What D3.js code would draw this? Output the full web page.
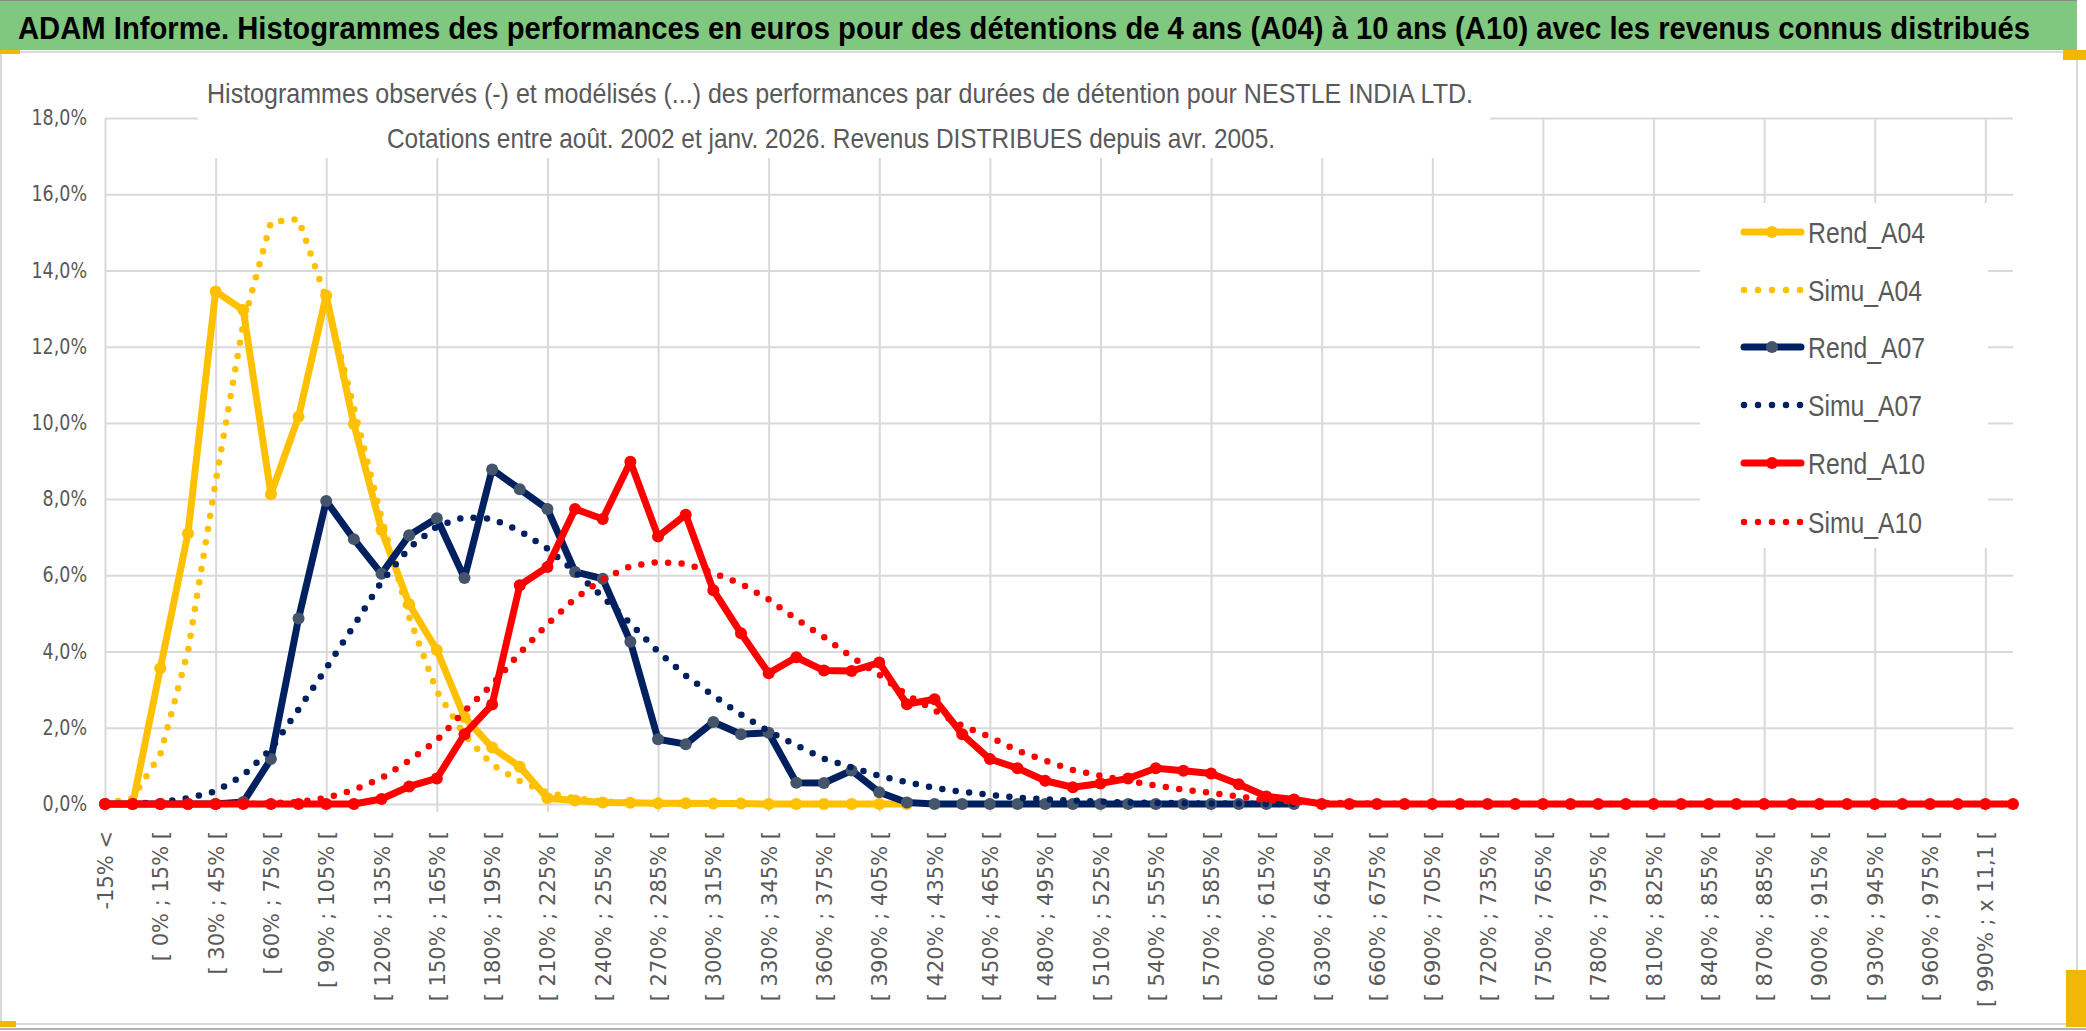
<!DOCTYPE html>
<html><head><meta charset="utf-8">
<script src="https://cdn.jsdelivr.net/npm/d3@7"></script>
<style>body{margin:0;background:#fff}svg{display:block}</style>
</head><body><svg id="c" width="2086" height="1031"></svg>
<script>
const titleText = "ADAM Informe. Histogrammes des performances en euros pour des détentions de 4 ans (A04) à 10 ans (A10) avec les revenus connus distribués";
const subtitle1 = "Histogrammes observés (-) et modélisés (...) des performances par durées de détention pour NESTLE INDIA LTD.";
const subtitle2 = "Cotations entre août. 2002 et janv. 2026. Revenus DISTRIBUES depuis avr. 2005.";

const categories = ["-15% <","[ -15% ; 0% [","[ 0% ; 15% [","[ 15% ; 30% [","[ 30% ; 45% [","[ 45% ; 60% [","[ 60% ; 75% [","[ 75% ; 90% [","[ 90% ; 105% [","[ 105% ; 120% [",
"[ 120% ; 135% [","[ 135% ; 150% [","[ 150% ; 165% [","[ 165% ; 180% [","[ 180% ; 195% [","[ 195% ; 210% [","[ 210% ; 225% [","[ 225% ; 240% [","[ 240% ; 255% [","[ 255% ; 270% [",
"[ 270% ; 285% [","[ 285% ; 300% [","[ 300% ; 315% [","[ 315% ; 330% [","[ 330% ; 345% [","[ 345% ; 360% [","[ 360% ; 375% [","[ 375% ; 390% [","[ 390% ; 405% [","[ 405% ; 420% [",
"[ 420% ; 435% [","[ 435% ; 450% [","[ 450% ; 465% [","[ 465% ; 480% [","[ 480% ; 495% [","[ 495% ; 510% [","[ 510% ; 525% [","[ 525% ; 540% [","[ 540% ; 555% [","[ 555% ; 570% [",
"[ 570% ; 585% [","[ 585% ; 600% [","[ 600% ; 615% [","[ 615% ; 630% [","[ 630% ; 645% [","[ 645% ; 660% [","[ 660% ; 675% [","[ 675% ; 690% [","[ 690% ; 705% [","[ 705% ; 720% [",
"[ 720% ; 735% [","[ 735% ; 750% [","[ 750% ; 765% [","[ 765% ; 780% [","[ 780% ; 795% [","[ 795% ; 810% [","[ 810% ; 825% [","[ 825% ; 840% [","[ 840% ; 855% [","[ 855% ; 870% [",
"[ 870% ; 885% [","[ 885% ; 900% [","[ 900% ; 915% [","[ 915% ; 930% [","[ 930% ; 945% [","[ 945% ; 960% [","[ 960% ; 975% [","[ 975% ; 990% [","[ 990% ; x 11,1 [","x 11,1 <"];

const yTicks = [0,2,4,6,8,10,12,14,16,18];

// values in %
const rendA04 = [0,0,3.56,7.10,13.45,12.96,8.13,10.16,13.34,9.97,7.19,5.24,4.04,2.28,1.48,0.98,0.15,0.09,0.04,0.03,0.02,0.02,0.01,0.01,0,0,0,0,0,0];
const simuA04 = [0,0.16,1.30,4.00,8.45,12.60,15.27,15.35,13.26,10.40,7.50,4.90,2.96,1.81,1.03,0.60,0.30,0.15,0.07,0.03,0.01,0,0,0,0,0,0,0,0,0];
const rendA07 = [0,0,0,0,0,0.05,1.18,4.87,7.95,6.95,6.04,7.05,7.50,5.93,8.78,8.26,7.74,6.09,5.91,4.26,1.70,1.57,2.15,1.83,1.87,0.56,0.55,0.88,0.31,0.04,0,0,0,0,0,0,0,0,0,0,0,0,0,0];
const simuA07 = [0,0.01,0.05,0.15,0.33,0.75,1.44,2.48,3.56,4.68,5.83,6.72,7.28,7.53,7.48,7.17,6.70,6.09,5.43,4.74,4.00,3.37,2.84,2.35,1.91,1.54,1.19,0.96,0.74,0.57,0.42,0.32,0.24,0.17,0.12,0.09,0.06,0.04,0.03,0.02,0.01,0.01,0,0];
const rendA10 = [0,0,0,0,0,0,0,0,0,0,0.13,0.46,0.67,1.83,2.61,5.74,6.22,7.74,7.48,8.98,7.02,7.59,5.61,4.48,3.43,3.85,3.50,3.49,3.71,2.62,2.75,1.83,1.18,0.94,0.61,0.44,0.54,0.67,0.94,0.87,0.80,0.52,0.20,0.12,0,0,0,0,0,0,0,0,0,0,0,0,0,0,0,0,0,0,0,0,0,0,0,0,0,0];
const simuA10 = [0,0,0,0,0,0,0.02,0.05,0.16,0.37,0.68,1.14,1.67,2.44,3.13,3.96,4.72,5.39,5.90,6.24,6.35,6.30,6.06,5.78,5.37,4.85,4.38,3.86,3.39,2.86,2.46,2.05,1.76,1.40,1.14,0.89,0.74,0.61,0.48,0.38,0.29,0.20,0.10,0.06,0.03,0.02,0.01,0,0,0,0,0,0,0,0,0,0,0,0,0,0,0,0,0,0,0,0,0,0,0];

const seriesNames = ["Rend_A04","Simu_A04","Rend_A07","Simu_A07","Rend_A10","Simu_A10"];
const seriesValues = [rendA04, simuA04, rendA07, simuA07, rendA10, simuA10];
const seriesColors = ["#FFC000","#FFC000","#002060","#002060","#FF0000","#FF0000"];
const markerColors = ["#FFC000",null,"#44546A",null,"#FF0000",null];

const svg = d3.select("#c");
const xL = 105, xR = 2013, yB = 804, yT = 118;
const x = d3.scalePoint().domain(categories).range([xL, xR]);
const y = d3.scaleLinear().domain([0, 18]).range([yB, yT]);
const tickFont = "'DejaVu Sans', Verdana, sans-serif";
const textFont = "'Liberation Sans', Arial, sans-serif";

// frame
svg.append("rect").attr("x",0).attr("y",0).attr("width",2086).attr("height",1031).attr("fill","#fff");
svg.append("rect").attr("x",1).attr("y",52).attr("width",2076).attr("height",972).attr("fill","none").attr("stroke","#D9D9D9").attr("stroke-width",2);
svg.append("line").attr("x1",0).attr("x2",2086).attr("y1",1029).attr("y2",1029).attr("stroke","#9a9a9a").attr("stroke-width",1.5);
svg.append("rect").attr("x",0).attr("y",0).attr("width",2077).attr("height",50).attr("fill","#80C880");
svg.append("line").attr("x1",0).attr("x2",2077).attr("y1",0.5).attr("y2",0.5).attr("stroke","#8a8a8a");
svg.append("text").attr("transform","translate(18,39) scale(1,1.16)").attr("x",0).attr("y",0)
  .attr("font-family",textFont).attr("font-weight","bold")
  .attr("font-size",27.5).attr("fill","#000").attr("textLength",2012).attr("lengthAdjust","spacingAndGlyphs").text(titleText);

// horizontal gridlines + y labels
const gy = svg.append("g").attr("transform",`translate(${xL},0)`)
  .call(d3.axisLeft(y).tickValues(yTicks).tickSize(-(xR-xL)).tickPadding(18)
    .tickFormat(d => d.toFixed(1).replace(".", ",") + "%"));
gy.select(".domain").remove();
gy.selectAll(".tick line").attr("stroke","#D9D9D9").attr("stroke-width",2);
gy.selectAll(".tick text").attr("fill","#595959").attr("font-family",tickFont).attr("font-size",17.5)
  .attr("transform","scale(1,1.18)");

// vertical gridlines every 4 categories
const gx = svg.append("g").attr("transform",`translate(0,${yB+8})`)
  .call(d3.axisBottom(x).tickValues(categories.filter((d,i)=>i%4===0)).tickSize(-(yB+8-yT)).tickFormat(""));
gx.select(".domain").remove();
gx.selectAll(".tick line").attr("stroke","#D9D9D9").attr("stroke-width",2);

// category labels every 2
const gl = svg.append("g").attr("transform",`translate(0,${yB})`)
  .call(d3.axisBottom(x).tickValues(categories.filter((d,i)=>i%2===0)).tickSize(0));
gl.select(".domain").remove();
gl.selectAll(".tick text").attr("transform","rotate(-90)").attr("x",-27).attr("y",0).attr("dy","0.36em")
  .attr("text-anchor","end").attr("fill","#595959").attr("font-family",tickFont).attr("font-size",21);

// subtitle box
svg.append("rect").attr("x",198).attr("y",64).attr("width",1292).attr("height",94).attr("fill","#fff");
svg.append("text").attr("x",207).attr("y",103).attr("font-family",textFont).attr("font-size",27.5).attr("fill","#595959")
  .attr("textLength",1266).attr("lengthAdjust","spacingAndGlyphs").text(subtitle1);
svg.append("text").attr("x",387).attr("y",148).attr("font-family",textFont).attr("font-size",27.5).attr("fill","#595959")
  .attr("textLength",888).attr("lengthAdjust","spacingAndGlyphs").text(subtitle2);

// legend
const legendY = [232,290,347,405,463,522];
svg.append("rect").attr("x",1700).attr("y",203).attr("width",288).attr("height",345).attr("fill","#fff");
const lg = svg.append("g");
seriesNames.forEach((name,k)=>{
  const g = lg.append("g").attr("transform",`translate(0,${legendY[k]})`);
  const isSimu = markerColors[k]===null;
  const ln = g.append("line").attr("x1",1744).attr("x2",1801).attr("y1",0).attr("y2",0)
    .attr("stroke",seriesColors[k]).attr("stroke-width",isSimu?6.5:7).attr("stroke-linecap","round");
  if (isSimu) ln.attr("stroke-dasharray","0 14");
  else g.append("circle").attr("cx",1772).attr("cy",0).attr("r",6).attr("fill",markerColors[k]);
  g.append("text").attr("x",1808).attr("y",11).attr("font-family",textFont).attr("font-size",30).attr("fill","#595959")
    .attr("textLength", isSimu?114:117).attr("lengthAdjust","spacingAndGlyphs").text(name);
});

// series
const plot = svg.append("g");
seriesValues.forEach((vals,k)=>{
  const pts = vals.map((v,i)=>({c:categories[i], v}));
  const line = d3.line().defined(d=>d.v!=null).x(d=>x(d.c)).y(d=>y(d.v));
  const isSimu = markerColors[k]===null;
  const p = plot.append("path").datum(pts).attr("d",line).attr("fill","none")
    .attr("stroke",seriesColors[k]).attr("stroke-width",isSimu?6.5:7)
    .attr("stroke-linejoin","round").attr("stroke-linecap","round");
  if (isSimu) p.attr("stroke-dasharray","0 13.5");
  else plot.append("g").selectAll("circle").data(pts.filter(d=>d.v!=null)).join("circle")
    .attr("cx",d=>x(d.c)).attr("cy",d=>y(d.v)).attr("r",6).attr("fill",markerColors[k]);
});

// selection handles
[[0,50,20,4],[2063,50,23,10],[2066,970,20,57],[0,1021,16,6]].forEach(r=>
  svg.append("rect").attr("x",r[0]).attr("y",r[1]).attr("width",r[2]).attr("height",r[3]).attr("fill","#F2B705"));
</script></body></html>
